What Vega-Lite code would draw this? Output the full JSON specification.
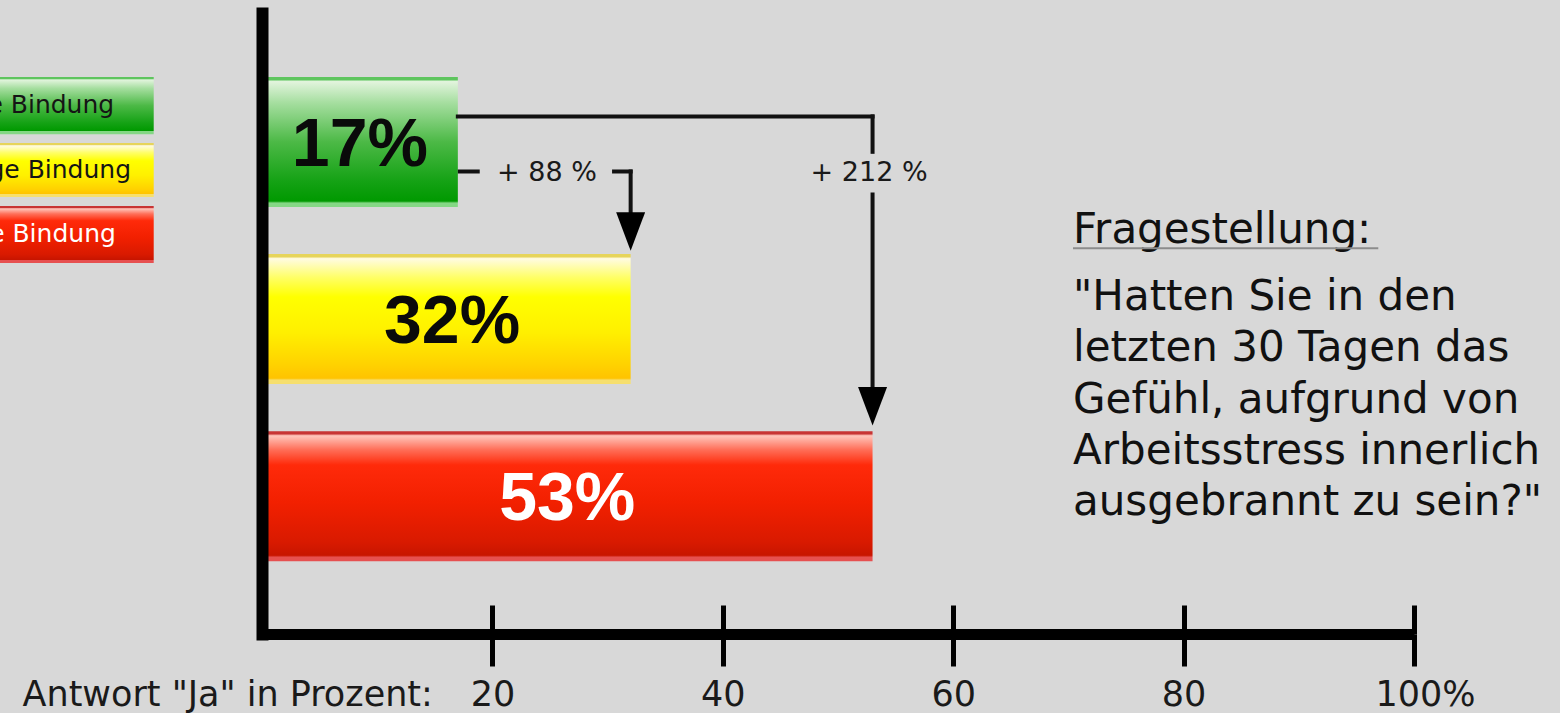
{
  "$schema": "https://vega.github.io/schema/vega-lite/v6.json",
  "width": 1152,
  "height": 621,
  "autosize": {"type": "none"},
  "padding": {"left": 262, "top": 13, "right": 146, "bottom": 79},
  "background": "#d8d8d8",
  "config": {"view": {"stroke": null}},
  "data": {"values": [{}]},
  "datasets": {
    "balken": [
      {"bindung": "Hohe Bindung", "rang": 1, "anteil": 0.17},
      {"bindung": "Geringe Bindung", "rang": 2, "anteil": 0.32},
      {"bindung": "Keine Bindung", "rang": 3, "anteil": 0.53}
    ]
  },
  "layer": [
    {
      "data": {"name": "balken"},
      "transform": [{"filter": "datum.bindung == 'Hohe Bindung'"}],
      "mark": {"type": "bar", "orient": "horizontal", "height": 130, "fill": {"gradient": "linear", "x1": 0, "y1": 0, "x2": 0, "y2": 1, "stops": [{"offset": 0, "color": "#5ec55e"}, {"offset": 0.02, "color": "#5ec55e"}, {"offset": 0.035, "color": "#e2f4dd"}, {"offset": 0.2, "color": "#a5de9f"}, {"offset": 0.5, "color": "#4cb946"}, {"offset": 0.8, "color": "#15a215"}, {"offset": 0.955, "color": "#009900"}, {"offset": 0.97, "color": "#85d785"}, {"offset": 1, "color": "#85d785"}]}},
      "encoding": {
        "x": {"field": "anteil", "type": "quantitative", "scale": {"domain": [0, 1], "nice": false, "zero": true},
          "axis": {"orient": "bottom", "values": [0.2, 0.4, 0.6, 0.8, 1], "domain": true, "domainColor": "#000000", "domainWidth": 11, "ticks": true, "tickSize": 32, "tickWidth": 5, "tickColor": "#000000", "grid": true, "gridColor": "#000000", "gridWidth": 5, "gridDash": [29, 2000], "labelFont": "DejaVu Sans", "labelFontSize": 35, "labelColor": "#1a1a1a", "labelPadding": 11, "labelFlush": false, "labelOverlap": false, "labelExpr": "datum.value == 1 ? '100%' : format(datum.value * 100, 'd')", "labelOffset": {"condition": {"test": "datum.value == 1", "value": 11}, "value": 0}, "title": "Antwort \"Ja\" in Prozent:", "titleFont": "DejaVu Sans", "titleFontSize": 35, "titleFontWeight": "normal", "titleColor": "#1a1a1a", "titleX": -240, "titleY": 71, "titleAlign": "left", "titleBaseline": "alphabetic", "titleAngle": 0, "zindex": 1}},
        "y": {"field": "rang", "type": "quantitative", "scale": {"domain": [0.3, 3.75], "reverse": true, "nice": false, "zero": false},
          "axis": {"orient": "left", "domain": true, "domainColor": "#000000", "domainWidth": 12, "domainCap": "square", "ticks": false, "labels": false, "grid": false, "title": null, "zindex": 1}}
      }
    },
    {
      "data": {"name": "balken"},
      "transform": [{"filter": "datum.bindung == 'Geringe Bindung'"}],
      "mark": {"type": "bar", "orient": "horizontal", "height": 130, "fill": {"gradient": "linear", "x1": 0, "y1": 0, "x2": 0, "y2": 1, "stops": [{"offset": 0, "color": "#e6d45a"}, {"offset": 0.02, "color": "#e6d45a"}, {"offset": 0.035, "color": "#fffbe2"}, {"offset": 0.18, "color": "#ffff66"}, {"offset": 0.33, "color": "#ffff00"}, {"offset": 0.6, "color": "#fff000"}, {"offset": 0.85, "color": "#ffd200"}, {"offset": 0.955, "color": "#ffc300"}, {"offset": 0.97, "color": "#f6df6e"}, {"offset": 1, "color": "#f6df6e"}]}},
      "encoding": {
        "x": {"field": "anteil", "type": "quantitative"},
        "y": {"field": "rang", "type": "quantitative"}
      }
    },
    {
      "data": {"name": "balken"},
      "transform": [{"filter": "datum.bindung == 'Keine Bindung'"}],
      "mark": {"type": "bar", "orient": "horizontal", "height": 130, "fill": {"gradient": "linear", "x1": 0, "y1": 0, "x2": 0, "y2": 1, "stops": [{"offset": 0, "color": "#c83434"}, {"offset": 0.02, "color": "#c83434"}, {"offset": 0.035, "color": "#ffc6bc"}, {"offset": 0.14, "color": "#ff705a"}, {"offset": 0.26, "color": "#ff2a0a"}, {"offset": 0.55, "color": "#f22000"}, {"offset": 0.85, "color": "#d91a00"}, {"offset": 0.955, "color": "#c81500"}, {"offset": 0.97, "color": "#e65050"}, {"offset": 1, "color": "#e65050"}]}},
      "encoding": {
        "x": {"field": "anteil", "type": "quantitative"},
        "y": {"field": "rang", "type": "quantitative"}
      }
    },
    {
      "data": {"name": "balken"},
      "transform": [{"filter": "datum.bindung == 'Hohe Bindung'"}],
      "mark": {"type": "text", "font": "Liberation Sans", "fontWeight": "bold", "fontSize": 68, "align": "center", "baseline": "middle", "dy": 4, "color": "#0a0a0a"},
      "encoding": {
        "x": {"datum": 0.085, "type": "quantitative"},
        "y": {"field": "rang", "type": "quantitative"},
        "text": {"field": "anteil", "type": "quantitative", "format": ".0%"}
      }
    },
    {
      "data": {"name": "balken"},
      "transform": [{"filter": "datum.bindung == 'Geringe Bindung'"}],
      "mark": {"type": "text", "font": "Liberation Sans", "fontWeight": "bold", "fontSize": 68, "align": "center", "baseline": "middle", "dy": 4, "color": "#0a0a0a"},
      "encoding": {
        "x": {"datum": 0.165, "type": "quantitative"},
        "y": {"field": "rang", "type": "quantitative"},
        "text": {"field": "anteil", "type": "quantitative", "format": ".0%"}
      }
    },
    {
      "data": {"name": "balken"},
      "transform": [{"filter": "datum.bindung == 'Keine Bindung'"}],
      "mark": {"type": "text", "font": "Liberation Sans", "fontWeight": "bold", "fontSize": 68, "align": "center", "baseline": "middle", "dy": 4, "color": "#ffffff"},
      "encoding": {
        "x": {"datum": 0.265, "type": "quantitative"},
        "y": {"field": "rang", "type": "quantitative"},
        "text": {"field": "anteil", "type": "quantitative", "format": ".0%"}
      }
    },
    {
      "mark": {"type": "rect", "fill": {"gradient": "linear", "x1": 0, "y1": 0, "x2": 0, "y2": 1, "stops": [{"offset": 0, "color": "#5ec55e"}, {"offset": 0.03, "color": "#5ec55e"}, {"offset": 0.05, "color": "#e2f4dd"}, {"offset": 0.2, "color": "#a5de9f"}, {"offset": 0.5, "color": "#4cb946"}, {"offset": 0.8, "color": "#15a215"}, {"offset": 0.94, "color": "#009900"}, {"offset": 0.95, "color": "#85d785"}, {"offset": 1, "color": "#85d785"}]}},
      "encoding": {
        "x": {"datum": -0.311, "type": "quantitative"},
        "x2": {"datum": -0.094},
        "y": {"datum": 0.633, "type": "quantitative"},
        "y2": {"datum": 0.956}
      }
    },
    {
      "mark": {"type": "rect", "fill": {"gradient": "linear", "x1": 0, "y1": 0, "x2": 0, "y2": 1, "stops": [{"offset": 0, "color": "#e6d45a"}, {"offset": 0.03, "color": "#e6d45a"}, {"offset": 0.05, "color": "#fffbe2"}, {"offset": 0.18, "color": "#ffff66"}, {"offset": 0.33, "color": "#ffff00"}, {"offset": 0.6, "color": "#fff000"}, {"offset": 0.85, "color": "#ffd200"}, {"offset": 0.94, "color": "#ffc300"}, {"offset": 0.95, "color": "#f6df6e"}, {"offset": 1, "color": "#f6df6e"}]}},
      "encoding": {
        "x": {"datum": -0.311, "type": "quantitative"},
        "x2": {"datum": -0.094},
        "y": {"datum": 1.006, "type": "quantitative"},
        "y2": {"datum": 1.311}
      }
    },
    {
      "mark": {"type": "rect", "fill": {"gradient": "linear", "x1": 0, "y1": 0, "x2": 0, "y2": 1, "stops": [{"offset": 0, "color": "#c83434"}, {"offset": 0.03, "color": "#c83434"}, {"offset": 0.05, "color": "#ffc6bc"}, {"offset": 0.14, "color": "#ff705a"}, {"offset": 0.26, "color": "#ff2a0a"}, {"offset": 0.55, "color": "#f22000"}, {"offset": 0.85, "color": "#d91a00"}, {"offset": 0.94, "color": "#c81500"}, {"offset": 0.95, "color": "#e65050"}, {"offset": 1, "color": "#e65050"}]}},
      "encoding": {
        "x": {"datum": -0.311, "type": "quantitative"},
        "x2": {"datum": -0.094},
        "y": {"datum": 1.361, "type": "quantitative"},
        "y2": {"datum": 1.683}
      }
    },
    {
      "mark": {"type": "text", "text": "Hohe Bindung", "font": "DejaVu Sans", "fontSize": 25, "align": "center", "baseline": "middle", "color": "#151515"},
      "encoding": {
        "x": {"datum": -0.205, "type": "quantitative"},
        "y": {"datum": 0.794, "type": "quantitative"}
      }
    },
    {
      "mark": {"type": "text", "text": "Geringe Bindung", "font": "DejaVu Sans", "fontSize": 25, "align": "center", "baseline": "middle", "color": "#151515"},
      "encoding": {
        "x": {"datum": -0.205, "type": "quantitative"},
        "y": {"datum": 1.158, "type": "quantitative"}
      }
    },
    {
      "mark": {"type": "text", "text": "Keine Bindung", "font": "DejaVu Sans", "fontSize": 25, "align": "center", "baseline": "middle", "color": "#ffffff"},
      "encoding": {
        "x": {"datum": -0.205, "type": "quantitative"},
        "y": {"datum": 1.522, "type": "quantitative"}
      }
    },
    {
      "mark": {"type": "rule", "strokeWidth": 4, "strokeCap": "square", "color": "#111111"},
      "encoding": {
        "x": {"datum": 0.17, "type": "quantitative"},
        "x2": {"datum": 0.53},
        "y": {"datum": 0.8556, "type": "quantitative"}
      }
    },
    {
      "mark": {"type": "rule", "strokeWidth": 4, "strokeCap": "square", "color": "#111111"},
      "encoding": {
        "x": {"datum": 0.53, "type": "quantitative"},
        "y": {"datum": 0.8556, "type": "quantitative"},
        "y2": {"datum": 1.0556}
      }
    },
    {
      "mark": {"type": "rule", "strokeWidth": 4, "strokeCap": "butt", "color": "#111111"},
      "encoding": {
        "x": {"datum": 0.53, "type": "quantitative"},
        "y": {"datum": 1.285, "type": "quantitative"},
        "y2": {"datum": 2.40}
      }
    },
    {
      "mark": {"type": "rule", "strokeWidth": 4, "strokeCap": "butt", "color": "#111111"},
      "encoding": {
        "x": {"datum": 0.17, "type": "quantitative"},
        "x2": {"datum": 0.189},
        "y": {"datum": 1.1667, "type": "quantitative"}
      }
    },
    {
      "mark": {"type": "rule", "strokeWidth": 4, "strokeCap": "square", "color": "#111111"},
      "encoding": {
        "x": {"datum": 0.3056, "type": "quantitative"},
        "x2": {"datum": 0.32},
        "y": {"datum": 1.1667, "type": "quantitative"}
      }
    },
    {
      "mark": {"type": "rule", "strokeWidth": 4, "strokeCap": "square", "color": "#111111"},
      "encoding": {
        "x": {"datum": 0.32, "type": "quantitative"},
        "y": {"datum": 1.1667, "type": "quantitative"},
        "y2": {"datum": 1.42}
      }
    },
    {
      "mark": {"type": "point", "shape": "M-0.753,-1L0.753,-1L0,1Z", "size": 1482, "filled": true, "opacity": 1, "strokeWidth": 0, "color": "#000000"},
      "encoding": {
        "x": {"datum": 0.32, "type": "quantitative"},
        "y": {"datum": 1.5056, "type": "quantitative"}
      }
    },
    {
      "mark": {"type": "point", "shape": "M-0.753,-1L0.753,-1L0,1Z", "size": 1482, "filled": true, "opacity": 1, "strokeWidth": 0, "color": "#000000"},
      "encoding": {
        "x": {"datum": 0.53, "type": "quantitative"},
        "y": {"datum": 2.4917, "type": "quantitative"}
      }
    },
    {
      "mark": {"type": "text", "text": "+ 88 %", "font": "DejaVu Sans", "fontSize": 27, "align": "center", "baseline": "middle", "color": "#1a1a1a"},
      "encoding": {
        "x": {"datum": 0.2474, "type": "quantitative"},
        "y": {"datum": 1.175, "type": "quantitative"}
      }
    },
    {
      "mark": {"type": "text", "text": "+ 212 %", "font": "DejaVu Sans", "fontSize": 27, "align": "center", "baseline": "middle", "color": "#1a1a1a"},
      "encoding": {
        "x": {"datum": 0.527, "type": "quantitative"},
        "y": {"datum": 1.175, "type": "quantitative"}
      }
    },
    {
      "mark": {"type": "text", "text": "Fragestellung:", "font": "DejaVu Sans", "fontSize": 42, "align": "left", "baseline": "alphabetic", "color": "#111111"},
      "encoding": {
        "x": {"datum": 0.704, "type": "quantitative"},
        "y": {"datum": 1.572, "type": "quantitative"}
      }
    },
    {
      "mark": {"type": "rule", "strokeWidth": 2, "color": "#8c8c8c"},
      "encoding": {
        "x": {"datum": 0.704, "type": "quantitative"},
        "x2": {"datum": 0.969},
        "y": {"datum": 1.6, "type": "quantitative"}
      }
    },
    {
      "mark": {"type": "text", "text": ["\"Hatten Sie in den", "letzten 30 Tagen das", "Gefühl, aufgrund von", "Arbeitsstress innerlich", "ausgebrannt zu sein?\""], "lineHeight": 51.2, "font": "DejaVu Sans", "fontSize": 42, "align": "left", "baseline": "alphabetic", "color": "#111111"},
      "encoding": {
        "x": {"datum": 0.704, "type": "quantitative"},
        "y": {"datum": 1.95, "type": "quantitative"}
      }
    }
  ]
}
